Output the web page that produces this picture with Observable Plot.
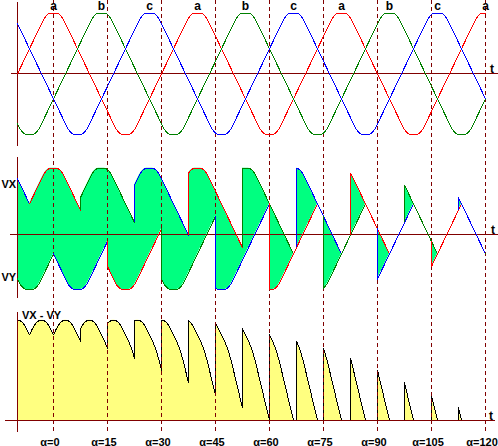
<!DOCTYPE html>
<html><head><meta charset="utf-8">
<script src="https://cdn.jsdelivr.net/npm/d3@7"></script>
<script src="https://cdn.jsdelivr.net/npm/@observablehq/plot@0.6"></script>
<style>html,body{margin:0;padding:0;background:#fff}#chart svg{display:block}</style>
</head><body><div id="chart"></div>
<script>
// ---------------- data ----------------
const phaseNames  = ["a", "b", "c"];
const phaseColors = ["#ff0000", "#008000", "#0000ff"];
const phaseShift  = [0, 120, 240];               // electrical degrees
const peakLabels  = ["a","b","c","a","b","c","a","b","c","a"];
const peakAngles  = [90, 210, 330, 450, 570, 690, 810, 930, 1050, 1170];
const alphaTicks  = [0, 15, 30, 45, 60, 75, 90, 105, 120];
// commutations: natural point (deg), firing delay alpha (deg), rail (X = +, Y = -), incoming phase
const commNatural = [30, 90, 150, 210, 270, 330, 390, 450, 510, 570, 630, 690, 750, 810, 870, 930, 990, 1050];
const commAlpha   = [0, 0, 7.5, 15, 22.5, 30, 37.5, 45, 52.5, 60, 67.5, 75, 82.5, 90, 97.5, 105, 112.5, 120];
const commRail    = ["X","Y","X","Y","X","Y","X","Y","X","Y","X","Y","X","Y","X","Y","X","Y"];
const commPhase   = ["a","c","b","a","c","b","a","c","b","a","c","b","a","c","b","a","c","b"];
const startX = "c", startY = "b";
const waveEnd = 1170;
// phase wave shape (straight flanks, rounded flat tops)
const slopePeak = 1.24, shoulder = 0.15;

// ---------------- layout ----------------
const W = 498, H = 446;
const OFF = {top: 0, mid: -2.5594, bot: -5.7211};
const axisColor = "#800000";
const font = "Liberation Sans, Arial, Helvetica, sans-serif";

function wave(deg) {
  const p = (((deg % 360) + 540) % 360) - 180;
  const t = Math.abs(p) <= 90 ? slopePeak * p / 90 : slopePeak * (Math.sign(p) * 180 - p) / 90;
  const s = Math.abs(t);
  const r = s <= 1 - shoulder ? s : s >= 1 + shoulder ? 1 : s - (s - (1 - shoulder)) ** 2 / (4 * shoulder);
  return Math.sign(t) * r;
}
const val = (i, th) => wave(th - phaseShift[i]);

const STEP = 0.5;
const grid = d3.range(0, waveEnd + STEP / 2, STEP);

// top panel
const topPts = phaseNames.flatMap((n, i) => grid.map(th => ({th, y: val(i, th) + OFF.top, ph: n, color: phaseColors[i]})));

// middle / bottom panels
const events = commNatural.map((n, k) => ({th: n + commAlpha[k], rail: commRail[k], ph: phaseNames.indexOf(commPhase[k])}));
const bounds = [0, ...events.map(e => e.th), waveEnd];
let px = phaseNames.indexOf(startX), py = phaseNames.indexOf(startY), cond = true, last = px;
let seg = 0, run = 0;
const midLines = [], midArea = [], midJumps = [], bot = [];
for (let i = 0; i < bounds.length - 1; i++) {
  const a = bounds[i], b = bounds[i + 1];
  if (i > 0) {
    const e = events[i - 1];
    const oldV = cond ? val(e.rail === "X" ? px : py, a) : val(last, a);
    if (e.rail === "X") px = e.ph; else py = e.ph;
    last = e.ph;
    midJumps.push({th: a, y1: oldV + OFF.mid, y2: val(e.ph, a) + OFF.mid, color: phaseColors[e.ph]});
    const was = cond;
    cond = val(px, a) - val(py, a) > 1e-9;
    if (cond && !was) run++;
  }
  const ths = d3.range(a, b, STEP); ths.push(b);
  const sx = ++seg, sy = ++seg; let ss = null; let prev = null;
  for (const th of ths) {
    if (cond) {
      const vx = val(px, th), vy = val(py, th), d = vx - vy;
      if (d <= 0 && prev) {
        const t = prev.d / (prev.d - d);
        const tt = prev.th + (th - prev.th) * t;
        const vt = prev.vx + (vx - prev.vx) * t;
        midLines.push({th: tt, y: vt + OFF.mid, seg: sx, color: phaseColors[px]});
        midLines.push({th: tt, y: vt + OFF.mid, seg: sy, color: phaseColors[py]});
        midArea.push({th: tt, y1: vt + OFF.mid, y2: vt + OFF.mid, run});
        bot.push({th: tt, d: 0});
        cond = false; ss = ++seg;
        midLines.push({th: tt, y: vt + OFF.mid, seg: ss, color: phaseColors[last]});
      } else {
        midLines.push({th, y: vx + OFF.mid, seg: sx, color: phaseColors[px]});
        midLines.push({th, y: vy + OFF.mid, seg: sy, color: phaseColors[py]});
        midArea.push({th, y1: vy + OFF.mid, y2: vx + OFF.mid, run});
        bot.push({th, d});
        prev = {th, vx, d};
        continue;
      }
    }
    if (ss === null) ss = ++seg;
    midLines.push({th, y: val(last, th) + OFF.mid, seg: ss, color: phaseColors[last]});
    bot.push({th, d: 0});
  }
}
const botPts = bot.map(p => ({th: p.th, y1: OFF.bot, y2: p.d + OFF.bot}));

// dashed lines: firing instants of the negative rail, labelled with alpha
const dashTh = events.filter(e => e.rail === "Y").map(e => e.th);
const dashData = dashTh.map((th, j) => ({th, label: "α=" + alphaTicks[j]}));

// axes
const vAxes = [
  {th: 0, y1: 1.177 + OFF.top, y2: -1.2 + OFF.top},
  {th: 0, y1: 1.178 + OFF.mid, y2: -1.148 + OFF.mid},
  {th: 0, y1: 1.782 + OFF.bot, y2: -0.198 + OFF.bot}
];
const hAxes = [
  {y: 0 + OFF.top, x1: -15, x2: 1202.5},
  {y: -0.0924 + OFF.mid, x1: -17.5, x2: 1202.5},
  {y: 0 + OFF.bot, x1: -30, x2: 1195}
];
const tLabels = [
  {th: 1187.5, y: 0 + OFF.top, dy: 10},
  {th: 1190, y: -0.0924 + OFF.mid, dy: 9},
  {th: 1185, y: 0 + OFF.bot, dy: 10}
];
const sideLabels = [
  {th: -21.75, y: 0.7376 + OFF.mid, text: "VX"},
  {th: -21.75, y: -0.802 + OFF.mid, text: "VY"},
  {th: 60, y: 1.74 + OFF.bot, text: "VX - VY"}
];
const peaks = peakAngles.map((th, i) => ({th, y: 1 + OFF.top, text: peakLabels[i]}));

const textStyle = {fontWeight: "bold", fontSize: 11, fill: "#000"};

const chart = Plot.plot({
  width: W, height: H,
  marginTop: 0, marginBottom: 0, marginLeft: 0, marginRight: 0,
  x: {domain: [-42.5, 1202.5], axis: null},
  y: {domain: [-6.1502, 1.2096], axis: null},
  color: {type: "identity"},
  style: {fontFamily: font, background: "#fff", overflow: "visible"},
  marks: [
    Plot.areaY(midArea, {x: "th", y1: "y1", y2: "y2", z: "run", fill: "#00ff80", curve: "linear"}),
    Plot.areaY(botPts, {x: "th", y1: "y1", y2: "y2", fill: "#ffff80", curve: "linear"}),
    Plot.line(botPts, {x: "th", y: "y2", stroke: "#000", strokeWidth: 1, shapeRendering: "crispEdges"}),
    Plot.ruleX(dashData, {x: "th", y1: 1.2096, y2: -5.919, stroke: axisColor, strokeWidth: 1, strokeDasharray: "4,3", shapeRendering: "crispEdges"}),
    Plot.ruleX(vAxes, {x: "th", y1: "y1", y2: "y2", stroke: axisColor, strokeWidth: 1, shapeRendering: "crispEdges"}),
    Plot.ruleY(hAxes, {y: "y", x1: "x1", x2: "x2", stroke: axisColor, strokeWidth: 1, shapeRendering: "crispEdges"}),
    Plot.line(topPts, {x: "th", y: "y", z: "ph", stroke: "color", strokeWidth: 1, shapeRendering: "crispEdges"}),
    Plot.line(midLines, {x: "th", y: "y", z: "seg", stroke: "color", strokeWidth: 1, shapeRendering: "crispEdges"}),
    Plot.ruleX(midJumps, {x: "th", y1: "y1", y2: "y2", stroke: "color", strokeWidth: 1, shapeRendering: "crispEdges"}),
    Plot.text(peaks, {x: "th", y: "y", text: "text", dy: -3, lineAnchor: "bottom", ...textStyle, fontSize: 12}),
    Plot.text(tLabels, {x: "th", y: "y", dy: "dy", text: d => "t", lineAnchor: "bottom", ...textStyle, fontSize: 12}),
    Plot.text(sideLabels, {x: "th", y: "y", text: "text", lineAnchor: "middle", ...textStyle}),
    Plot.text(dashData, {x: "th", text: "label", frameAnchor: "bottom", lineAnchor: "bottom", dx: -3.5, dy: -1, ...textStyle})
  ]
});
document.getElementById("chart").append(chart);
</script>
</body></html>
